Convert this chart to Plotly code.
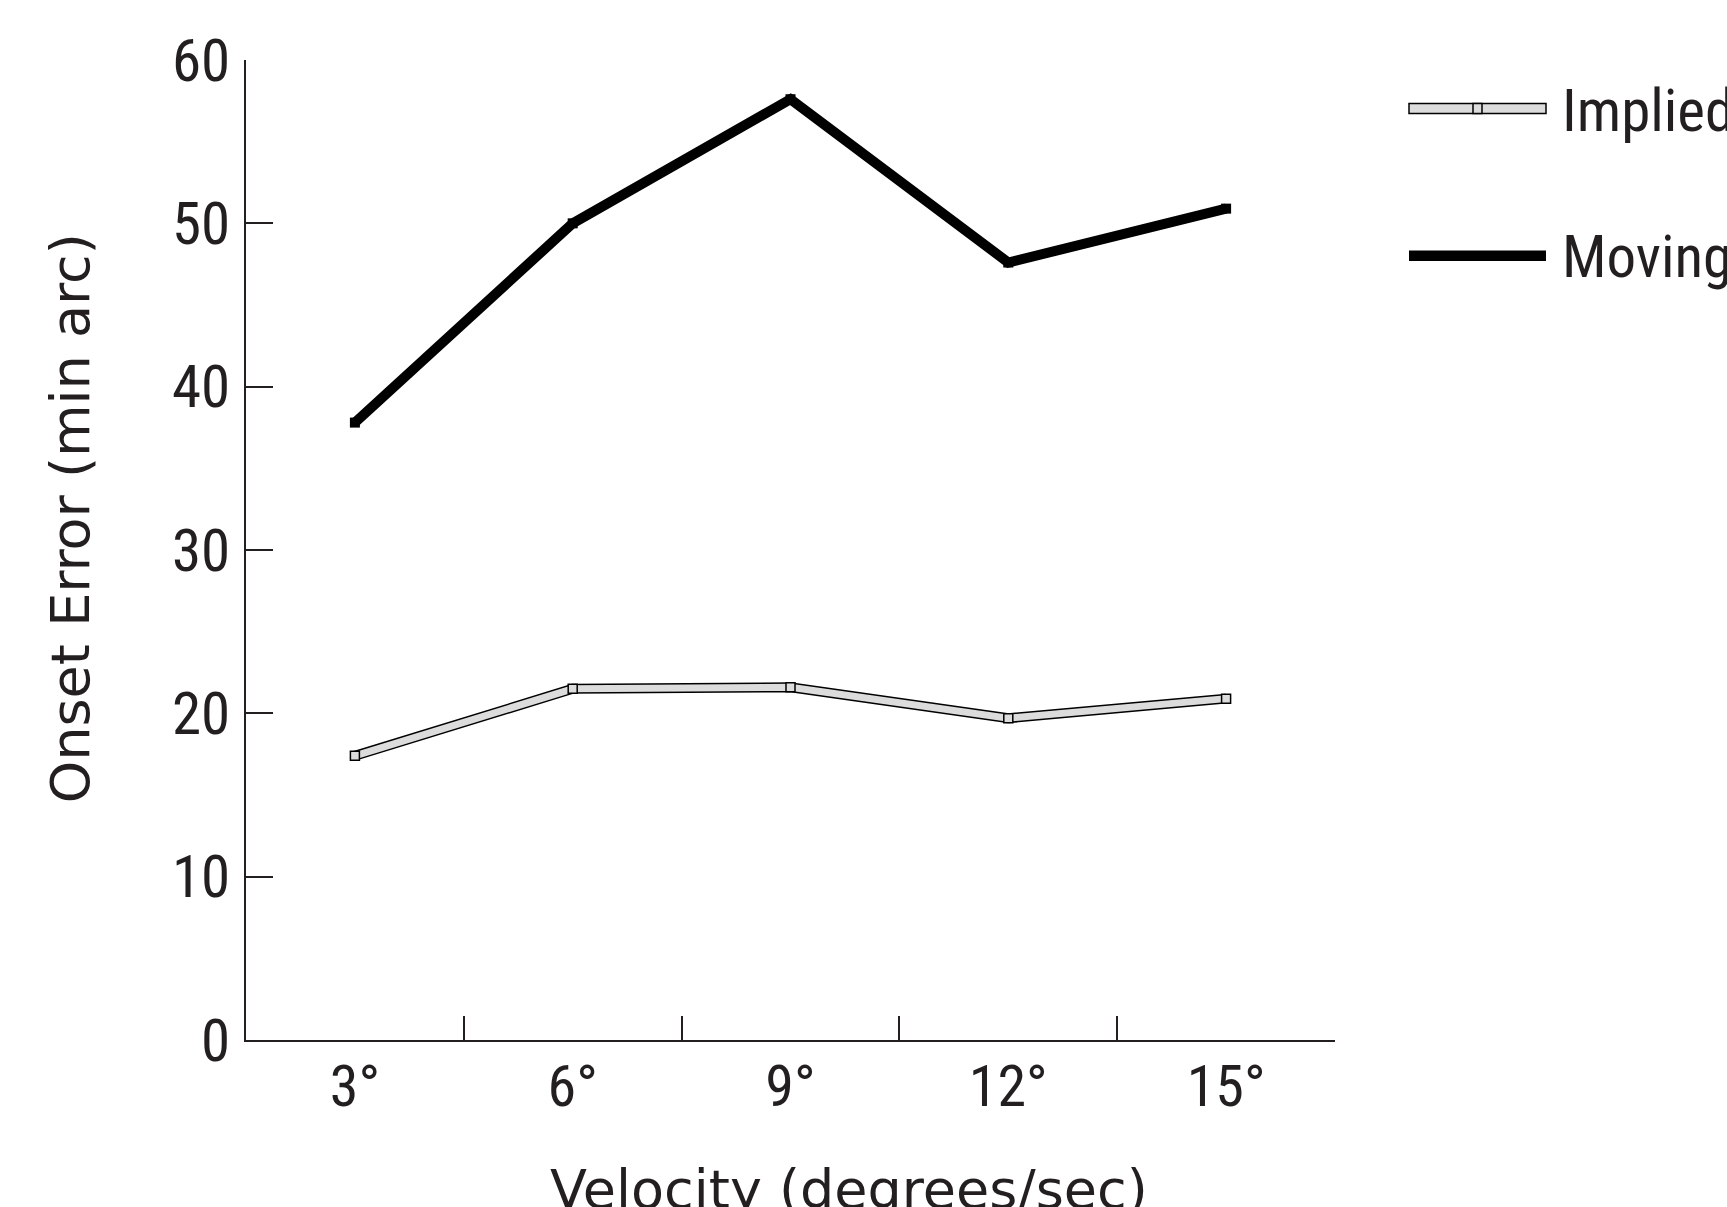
import plotly.graph_objects as go

categories = ["3°", "6°", "9°", "12°", "15°"]
implied = [17.4, 21.5, 21.6, 19.7, 20.9]
moving = [37.8, 50.0, 57.6, 47.6, 50.9]
y_ticks = [0, 10, 20, 30, 40, 50, 60]

W, H = 1727, 1207
L, R, T, B = 246, 1335, 59.5, 1040
NARROW = "Liberation Sans Narrow, Arial Narrow, Roboto Condensed, Liberation Sans, Arial, sans-serif"
WIDE = "DejaVu Sans, Verdana, sans-serif"

def px(x):
    return (x - L) / (R - L)

def py(y):
    return (B - y) / (B - T)

fig = go.Figure()
# Implied: outlined light-gray band
fig.add_trace(go.Scatter(x=categories, y=implied, mode="lines",
                         line=dict(color="black", width=10), hoverinfo="skip", showlegend=False))
fig.add_trace(go.Scatter(x=categories, y=implied, mode="lines+markers", name="Implied",
                         line=dict(color="#dcdcdc", width=7),
                         marker=dict(symbol="square", size=9, color="#dcdcdc",
                                     line=dict(color="black", width=1.5)),
                         showlegend=False))
# Moving: thick black line
fig.add_trace(go.Scatter(x=categories, y=moving, mode="lines+markers", name="Moving",
                         line=dict(color="black", width=10),
                         marker=dict(symbol="square", size=10, color="black"),
                         showlegend=False))

shapes = [
    # legend: Implied sample
    dict(type="rect", xref="paper", yref="paper", x0=px(1409), x1=px(1546), y0=py(113), y1=py(103),
         fillcolor="#dcdcdc", line=dict(color="black", width=1.5)),
    dict(type="rect", xref="paper", yref="paper", x0=px(1473), x1=px(1482), y0=py(113), y1=py(103),
         fillcolor="#dcdcdc", line=dict(color="black", width=1.5)),
    # legend: Moving sample
    dict(type="rect", xref="paper", yref="paper", x0=px(1409), x1=px(1546), y0=py(260.5), y1=py(250),
         fillcolor="black", line=dict(color="black", width=0)),
]

annotations = [
    dict(text="Implied", xref="paper", yref="paper", x=px(1560), y=py(110), xanchor="left", yanchor="middle",
         showarrow=False, font=dict(family=NARROW, size=59, color="#231f20")),
    dict(text="Moving", xref="paper", yref="paper", x=px(1560), y=py(256), xanchor="left", yanchor="middle",
         showarrow=False, font=dict(family=NARROW, size=59, color="#231f20")),
    dict(text="Velocity (degrees/sec)", xref="paper", yref="paper", x=px(849), y=py(1190),
         xanchor="center", yanchor="middle", showarrow=False,
         font=dict(family=WIDE, size=54, color="#231f20")),
    dict(text="Onset Error (min arc)", xref="paper", yref="paper", x=px(70), y=py(518),
         xanchor="center", yanchor="middle", textangle=-90, showarrow=False,
         font=dict(family=WIDE, size=54, color="#231f20")),
]

fig.update_layout(
    width=W, height=H,
    margin=dict(l=L, r=W - R, t=T, b=H - B, pad=0),
    plot_bgcolor="white", paper_bgcolor="white",
    shapes=shapes, annotations=annotations,
    xaxis=dict(type="category", range=[-0.5, 4.5], showgrid=False, zeroline=False,
               showline=True, linecolor="#231f20", linewidth=2,
               ticks="inside", ticklen=24, tickwidth=2, tickcolor="#231f20",
               tickson="boundaries", ticklabelstandoff=-6,
               tickfont=dict(family=NARROW, size=58, color="#231f20")),
    yaxis=dict(range=[0, 60], tickvals=y_ticks, showgrid=False, zeroline=False,
               showline=True, linecolor="#231f20", linewidth=2,
               ticks="inside", ticklen=27, tickwidth=2, tickcolor="#231f20",
               ticklabelstandoff=2,
               tickfont=dict(family=NARROW, size=59, color="#231f20")),
)

fig.write_html("out.html")
